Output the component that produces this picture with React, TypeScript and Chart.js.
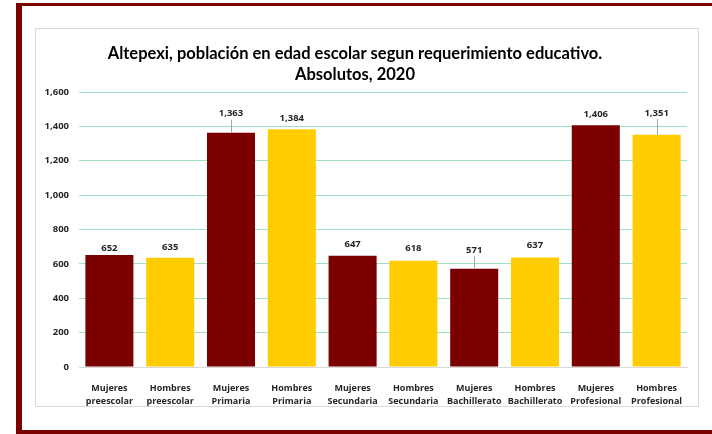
import React, { useEffect, useRef } from "react";
import { Chart, registerables } from "chart.js";

Chart.register(...registerables);

const categories: string[][] = [
  ["Mujeres", "preescolar"],
  ["Hombres", "preescolar"],
  ["Mujeres", "Primaria"],
  ["Hombres", "Primaria"],
  ["Mujeres", "Secundaria"],
  ["Hombres", "Secundaria"],
  ["Mujeres", "Bachillerato"],
  ["Hombres", "Bachillerato"],
  ["Mujeres", "Profesional"],
  ["Hombres", "Profesional"],
];
const values = [652, 635, 1363, 1384, 647, 618, 571, 637, 1406, 1351];
const barColors = [
  "#7B0000", "#FFCC00", "#7B0000", "#FFCC00", "#7B0000",
  "#FFCC00", "#7B0000", "#FFCC00", "#7B0000", "#FFCC00",
];
const yMax = 1600;
const yStep = 200;
const titleLines = [
  "Altepexi, población en edad escolar segun requerimiento educativo.",
  "Absolutos, 2020",
];
// label lift above bar top (px); larger lifts get a leader line
const labelLift = [7, 11, 19, 11, 12, 12, 19, 12, 11, 22];

const TITLE_FONT = "Lato, 'Open Sans', sans-serif";
const FONT = "'Open Sans', Lato, sans-serif";

const fmt = (v: number) => v.toLocaleString("en-US");

export default function App() {
  const ref = useRef<HTMLCanvasElement | null>(null);

  useEffect(() => {
    if (!ref.current) return;
    const titlePlugin = {
      id: "customTitle",
      afterDraw(chart: any) {
        const ctx = chart.ctx;
        ctx.save();
        ctx.fillStyle = "#000";
        ctx.font = `bold 16.5px ${TITLE_FONT}`;
        ctx.textAlign = "center";
        ctx.textBaseline = "alphabetic";
        const cx = chart.width / 2 - 12;
        ctx.fillText(titleLines[0], cx, 30);
        ctx.fillText(titleLines[1], cx, 51);
        ctx.restore();
      },
    };
    const labelPlugin = {
      id: "barLabels",
      afterDatasetsDraw(chart: any) {
        const ctx = chart.ctx;
        const meta = chart.getDatasetMeta(0);
        ctx.save();
        ctx.font = `bold 9.5px ${FONT}`;
        ctx.textAlign = "center";
        ctx.textBaseline = "middle";
        meta.data.forEach((el: any, i: number) => {
          const lift = labelLift[i];
          const ly = el.y - lift;
          if (lift > 15) {
            ctx.strokeStyle = "#a6a6a6";
            ctx.lineWidth = 1;
            ctx.beginPath();
            ctx.moveTo(Math.round(el.x) + 0.5, ly + 6);
            ctx.lineTo(Math.round(el.x) + 0.5, el.y);
            ctx.stroke();
          }
          ctx.fillStyle = "#262626";
          ctx.fillText(fmt(values[i]), el.x, ly);
        });
        ctx.restore();
      },
    };
    const chart = new Chart(ref.current, {
      type: "bar",
      data: {
        labels: categories,
        datasets: [
          {
            data: values,
            backgroundColor: barColors,
            borderWidth: 0,
            barPercentage: 0.79,
            categoryPercentage: 1,
          },
        ],
      },
      options: {
        animation: false,
        responsive: false,
        layout: { padding: { top: 63, right: 11, left: 0, bottom: 0 } },
        plugins: {
          legend: { display: false },
          title: { display: false },
          tooltip: { enabled: false },
        },
        scales: {
          x: {
            grid: { display: false },
            border: { display: true, color: "#d9d9d9" },
            ticks: {
              color: "#262626",
              font: { family: FONT, size: 9, weight: "bold", lineHeight: 1.45 },
              padding: 7,
              maxRotation: 0,
              autoSkip: false,
            },
            afterFit(scale: any) {
              scale.height = 39;
            },
          },
          y: {
            min: 0,
            max: yMax,
            grid: {
              drawTicks: false,
              color: (c: any) => (c.tick && c.tick.value === 0 ? "#d9d9d9" : "#9fe2bd"),
            },
            border: { display: false },
            ticks: {
              stepSize: yStep,
              padding: 10,
              color: "#262626",
              font: { family: FONT, size: 9.5, weight: "bold" },
              callback: (v: any) => fmt(Number(v)),
            },
            afterFit(scale: any) {
              scale.width = 43;
            },
          },
        },
      },
      plugins: [titlePlugin, labelPlugin],
    });
    return () => chart.destroy();
  }, []);

  return (
    <div style={{ position: "fixed", left: 0, top: 0, width: 712, height: 434, background: "#fff", overflow: "hidden" }}>
      <div
        style={{
          position: "absolute",
          left: 16,
          top: 3,
          width: 720,
          height: 431,
          borderTop: "3px solid #7B0000",
          borderLeft: "6px solid #7B0000",
          borderBottom: "4px solid #7B0000",
          boxSizing: "border-box",
        }}
      />
      <div
        style={{
          position: "absolute",
          left: 35,
          top: 28,
          width: 664,
          height: 379,
          border: "1px solid #d9d9d9",
          boxSizing: "border-box",
          background: "#fff",
        }}
      >
        <canvas ref={ref} width={662} height={377} style={{ display: "block" }} />
      </div>
    </div>
  );
}
